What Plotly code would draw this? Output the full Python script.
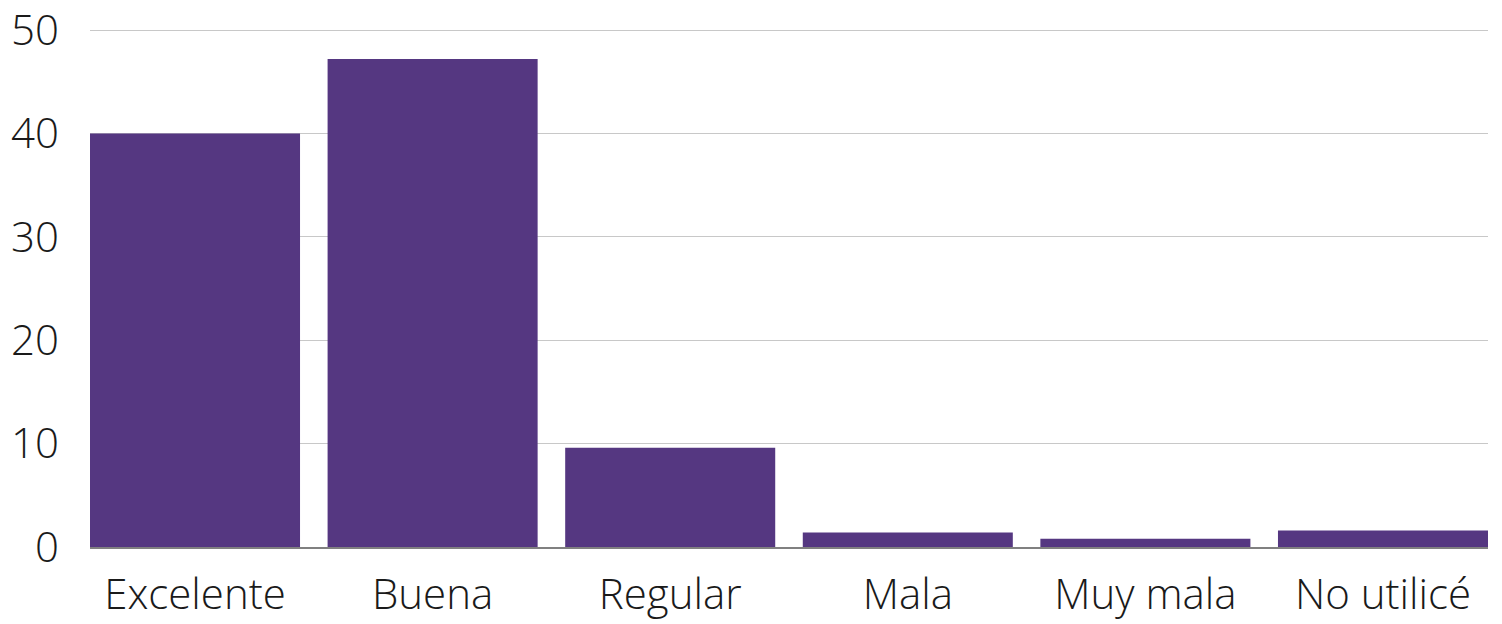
import plotly.graph_objects as go

categories = ['Excelente', 'Buena', 'Regular', 'Mala', 'Muy mala', 'No utilicé']
values = [40.0, 47.2, 9.6, 1.4, 0.8, 1.6]
y_ticks = [0, 10, 20, 30, 40, 50]

fig = go.Figure()
fig.add_trace(go.Bar(x=categories, y=values, marker=dict(color='#553781', line=dict(width=0)),
                     hoverinfo='x+y'))

fig.update_layout(
    width=1502, height=624,
    margin=dict(l=90, r=14, t=28, b=77),
    plot_bgcolor='white', paper_bgcolor='white',
    bargap=0.116,
    showlegend=False,
    font=dict(family='Open Sans', size=42, color='#1a1a1a', weight=300),
)
fig.update_xaxes(range=[-0.442, 5.442], showgrid=False, showline=True, linecolor='#808080',
                 linewidth=1.5, ticks='', ticklabelstandoff=10, automargin=False,
                 ticklabeloverflow='allow')
# little headroom so the 50 gridline is drawn
fig.update_yaxes(range=[0, 50.2], tickvals=y_ticks, showgrid=True, gridcolor='#c8c8c8',
                 gridwidth=1, zeroline=False, showline=False, ticks='', ticklabelstandoff=30,
                 automargin=False, ticklabeloverflow='allow')

# drop the default 8px body margin so the figure fills the window
fig.write_html("out.html", config={'displayModeBar': False},
               post_script="document.body.style.margin='0';")
